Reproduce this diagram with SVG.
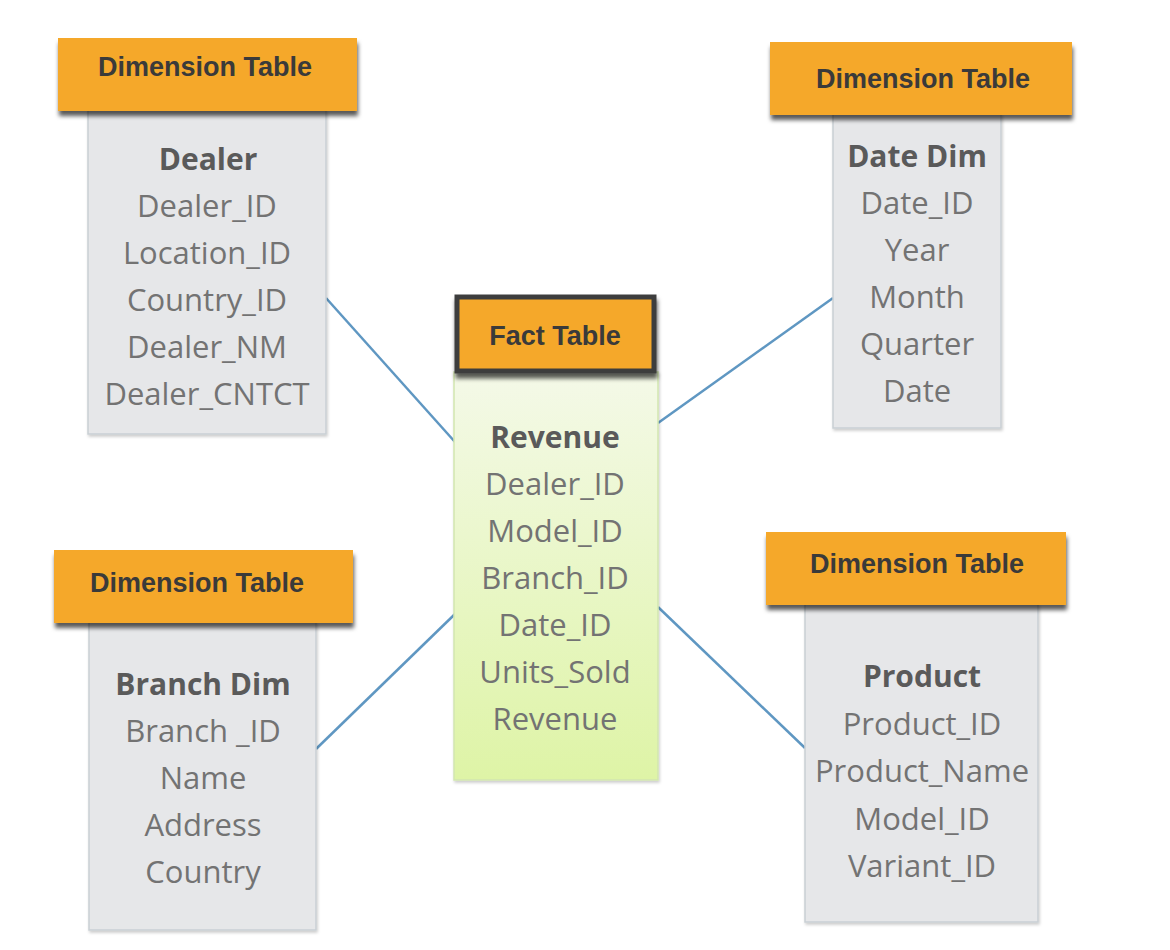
<svg xmlns="http://www.w3.org/2000/svg" width="1170" height="950" viewBox="0 0 1170 950">
  <defs>
    <filter id="hdrShadow" x="-10%" y="-20%" width="120%" height="160%">
      <feDropShadow dx="1" dy="5" stdDeviation="2" flood-color="#000" flood-opacity="0.65"/>
    </filter>
    <filter id="bodyShadow" x="-10%" y="-10%" width="120%" height="120%">
      <feDropShadow dx="1" dy="2" stdDeviation="1.5" flood-color="#000" flood-opacity="0.2"/>
    </filter>
    <linearGradient id="greenGrad" x1="0" y1="0" x2="0" y2="1">
      <stop offset="0" stop-color="#f4f9e8"/>
      <stop offset="1" stop-color="#def4a6"/>
    </linearGradient>
    <style>
      .hdr { fill: #f5a82a; filter: url(#hdrShadow); }
      .hdrFact { fill: #f5a82a; stroke: #3d3d3d; stroke-width: 5; filter: url(#hdrShadow); }
      .hdrText { font-family: "Liberation Sans", Arial, sans-serif; font-weight: bold; font-size: 27px; fill: #3a3a3a; text-anchor: middle; }
      .body { fill: #e6e7e9; stroke: #c9cfd4; stroke-width: 1.5; filter: url(#bodyShadow); }
      .bodyFact { fill: url(#greenGrad); stroke: #d2e6b0; stroke-width: 1.5; filter: url(#bodyShadow); }
      .title { font-family: "Open Sans", "Noto Sans", sans-serif; font-weight: bold; font-size: 30px; fill: #5a5a5a; text-anchor: middle; }
      .field { font-family: "Open Sans", "Noto Sans", sans-serif; font-size: 31px; fill: #737373; text-anchor: middle; }
      .conn { stroke: #5f97c2; stroke-width: 2.5; fill: none; }
    </style>
  </defs>
  <rect width="1170" height="950" fill="#ffffff"/>

  <g id="connectors">
    <line class="conn" x1="326" y1="298" x2="455" y2="442"/>
    <line class="conn" x1="833" y1="298" x2="658" y2="423"/>
    <line class="conn" x1="316" y1="749" x2="455" y2="614"/>
    <line class="conn" x1="658" y1="607" x2="805" y2="748"/>
  </g>

  <g id="dealer">
    <rect class="body" x="88" y="110" width="238" height="324"/>
    <rect class="hdr" x="58" y="38" width="299" height="73"/>
    <text class="hdrText" x="205" y="76">Dimension Table</text>
    <text class="title" x="208" y="170">Dealer</text>
    <text class="field" x="207" y="217">Dealer_ID</text>
    <text class="field" x="207" y="264">Location_ID</text>
    <text class="field" x="207" y="311">Country_ID</text>
    <text class="field" x="207" y="358">Dealer_NM</text>
    <text class="field" x="207" y="405">Dealer_CNTCT</text>
  </g>

  <g id="date-dim">
    <rect class="body" x="833" y="114" width="168" height="314"/>
    <rect class="hdr" x="770" y="42" width="302" height="73"/>
    <text class="hdrText" x="923" y="88">Dimension Table</text>
    <text class="title" x="917" y="167">Date Dim</text>
    <text class="field" x="917" y="214">Date_ID</text>
    <text class="field" x="917" y="261">Year</text>
    <text class="field" x="917" y="308">Month</text>
    <text class="field" x="917" y="355">Quarter</text>
    <text class="field" x="917" y="402">Date</text>
  </g>

  <g id="fact">
    <rect class="bodyFact" x="454" y="372" width="204" height="408"/>
    <rect class="hdrFact" x="457" y="297" width="197" height="74"/>
    <text class="hdrText" x="555" y="345">Fact Table</text>
    <text class="title" x="555" y="448">Revenue</text>
    <text class="field" x="555" y="495">Dealer_ID</text>
    <text class="field" x="555" y="542">Model_ID</text>
    <text class="field" x="555" y="589">Branch_ID</text>
    <text class="field" x="555" y="636">Date_ID</text>
    <text class="field" x="555" y="683">Units_Sold</text>
    <text class="field" x="555" y="730">Revenue</text>
  </g>

  <g id="branch-dim">
    <rect class="body" x="89" y="622" width="227" height="308"/>
    <rect class="hdr" x="54" y="550" width="299" height="73"/>
    <text class="hdrText" x="197" y="592">Dimension Table</text>
    <text class="title" x="203" y="695">Branch Dim</text>
    <text class="field" x="203" y="742">Branch _ID</text>
    <text class="field" x="203" y="789">Name</text>
    <text class="field" x="203" y="836">Address</text>
    <text class="field" x="203" y="883">Country</text>
  </g>

  <g id="product">
    <rect class="body" x="805" y="604" width="233" height="318"/>
    <rect class="hdr" x="766" y="532" width="300" height="73"/>
    <text class="hdrText" x="917" y="573">Dimension Table</text>
    <text class="title" x="922" y="687">Product</text>
    <text class="field" x="922" y="735">Product_ID</text>
    <text class="field" x="922" y="782">Product_Name</text>
    <text class="field" x="922" y="830">Model_ID</text>
    <text class="field" x="922" y="877">Variant_ID</text>
  </g>
</svg>
